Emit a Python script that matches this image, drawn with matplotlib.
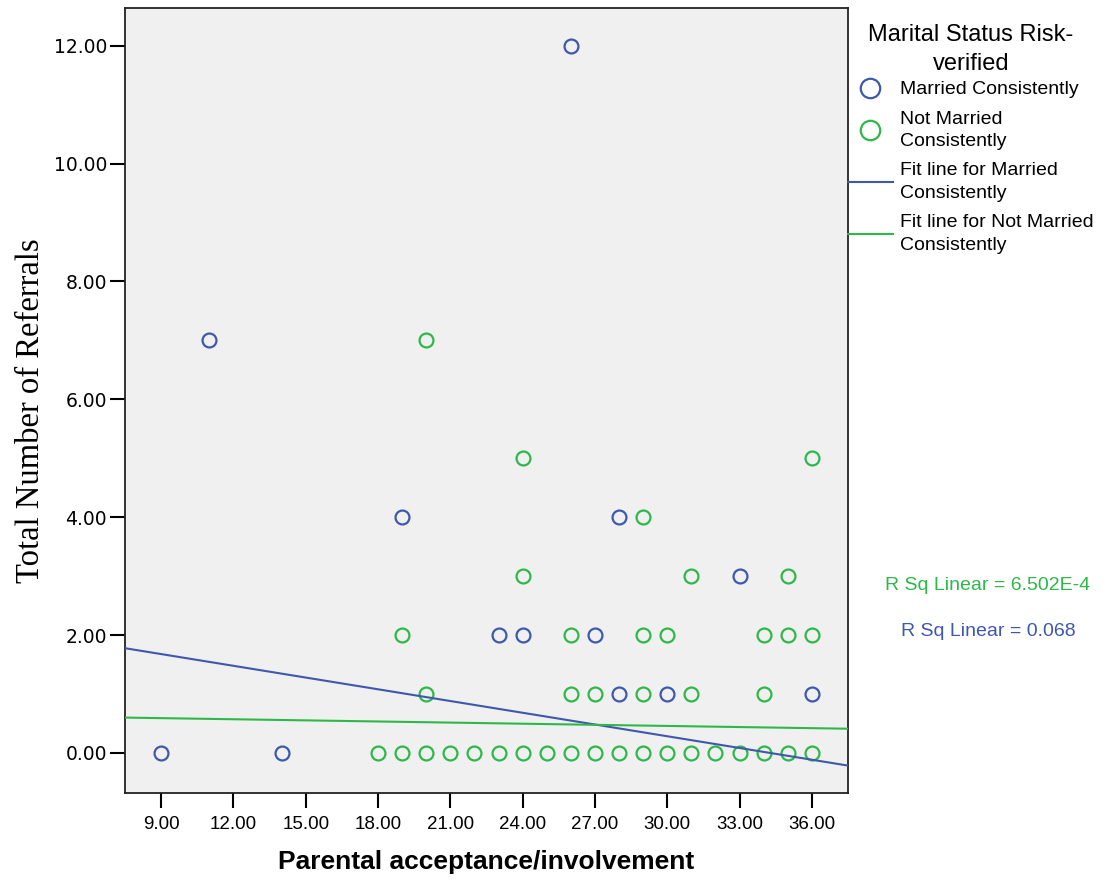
import matplotlib
matplotlib.use("Agg")
import matplotlib.pyplot as plt
import numpy as np

# ---- data ----
married_x = [26, 11, 19, 28, 33, 23, 24, 27, 28, 30, 36, 9, 14]
married_y = [12, 7, 4, 4, 3, 2, 2, 2, 1, 1, 1, 0, 0]

not_married_x = [20, 24, 36, 29, 24, 31, 35,
                 19, 26, 29, 30, 34, 35, 36,
                 20, 26, 27, 29, 31, 34,
                 18, 19, 20, 21, 22, 23, 24, 25, 26, 27, 28, 29, 30, 31, 32, 33, 34, 35, 36]
not_married_y = [7, 5, 5, 4, 3, 3, 3,
                 2, 2, 2, 2, 2, 2, 2,
                 1, 1, 1, 1, 1, 1,
                 0, 0, 0, 0, 0, 0, 0, 0, 0, 0, 0, 0, 0, 0, 0, 0, 0, 0, 0]

# fit lines (intercept, slope)
fit_married = (2.275, -0.0664)
fit_not_married = (0.647, -0.0063)
r2_married = "R Sq Linear = 0.068"
r2_not_married = "R Sq Linear = 6.502E-4"

x_ticks = [9, 12, 15, 18, 21, 24, 27, 30, 33, 36]
y_ticks = [0, 2, 4, 6, 8, 10, 12]

BLUE = "#3E58AC"
GREEN = "#2EB848"

plt.rcParams['font.family'] = ['Liberation Sans', 'DejaVu Sans']

fig = plt.figure(figsize=(11.03, 8.82), dpi=100)
ax = fig.add_axes([125/1103, 1-793/882, (848-125)/1103, (793-8)/882])
ax.set_facecolor("#F0F0F0")

ax.plot(married_x, married_y, linestyle='none', marker='o', markersize=10,
        markerfacecolor='none', markeredgecolor=BLUE, markeredgewidth=1.6,
        label='Married Consistently', zorder=3)
ax.plot(not_married_x, not_married_y, linestyle='none', marker='o', markersize=10,
        markerfacecolor='none', markeredgecolor=GREEN, markeredgewidth=1.6,
        label='Not Married\nConsistently', zorder=3)

xl = (7.5, 37.5)
xs = np.array(xl)
ax.plot(xs, fit_married[0] + fit_married[1]*xs, color=BLUE, lw=1.5,
        label='Fit line for Married\nConsistently', zorder=4)
ax.plot(xs, fit_not_married[0] + fit_not_married[1]*xs, color=GREEN, lw=1.5,
        label='Fit line for Not Married\nConsistently', zorder=4)

ax.set_xlim(*xl)
ax.set_ylim(-0.68, 12.64)
ax.set_xticks(x_ticks)
ax.set_xticklabels([f"{v:.2f}" for v in x_ticks], fontsize=13.5)
ax.set_yticks(y_ticks)
ax.set_yticklabels([f"{v:.2f}" for v in y_ticks], fontsize=13.5, family='DejaVu Sans')
ax.tick_params(axis='x', direction='out', length=10.5, width=1.5, color='black', pad=6)
ax.tick_params(axis='y', direction='out', length=11, width=1.5, color='black', pad=2)

for s in ax.spines.values():
    s.set_color('#222222')
    s.set_linewidth(1.3)

ax.set_xlabel("Parental acceptance/involvement", fontsize=19, fontweight='bold', labelpad=12)
ax.set_ylabel("Total Number of Referrals", fontsize=23.5, family=['Liberation Serif', 'DejaVu Serif'])
ax.yaxis.set_label_coords((46-125)/723, 1-(411-8)/785)

leg = ax.legend(loc='upper left', bbox_to_anchor=(1.0, 0.979), frameon=False,
                borderaxespad=0, borderpad=0, handlelength=2.3, handletextpad=0.4,
                labelspacing=0.63, markerscale=1.4, fontsize=14,
                title="Marital Status Risk-\nverified", title_fontsize=17)
leg._legend_box.align = "center"
leg._legend_box.sep = 4
leg.get_title().set_multialignment('center')
leg.get_title().set_linespacing(1.4)
for t in leg.get_texts():
    t.set_linespacing(1.42)

fig.text(988/1103, 1-585/882, r2_not_married, color=GREEN, fontsize=14, ha='center', va='center')
fig.text(988/1103, 1-632/882, r2_married, color=BLUE, fontsize=14, ha='center', va='center')

fig.savefig("out.png", dpi=100)
